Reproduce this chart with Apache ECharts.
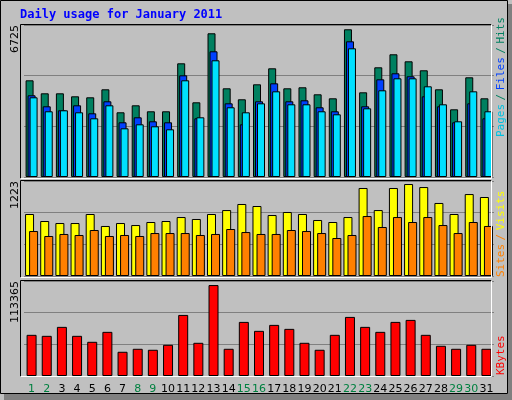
<!DOCTYPE html>
<html><head><meta charset="utf-8">
<script src="https://cdn.jsdelivr.net/npm/echarts@6/dist/echarts.min.js"></script>
<style>html,body{margin:0;padding:0;background:#c0c0c0}#c{width:512px;height:400px}</style>
</head><body><div id="c"></div>
<script>
const days = ['1','2','3','4','5','6','7','8','9','10','11','12','13','14','15','16','17','18','19','20','21','22','23','24','25','26','27','28','29','30','31'];
const weekend = ['1','2','8','9','15','16','22','23','29','30'];
const hits = [4278,3703,3703,3570,3526,3880,2863,3172,2907,2907,5030,3305,6358,3924,3438,4101,4809,3924,3969,3659,3482,6535,3747,4853,5429,5119,4721,3880,2995,4411,3482];
const files = [3615,3128,2951,3172,2818,3349,2420,2641,2464,2420,4499,2597,5561,3260,2331,3349,4145,3349,3393,3084,2907,6003,3128,4322,4588,4455,3570,3128,2420,3260,2597];
const pages = [3526,2907,2951,2862,2597,3172,2154,2331,2243,2110,4278,2641,5163,3084,2862,3260,3791,3216,3216,2907,2774,5694,3039,3836,4366,4366,4013,3216,2464,3791,2907];
const visits = [798,708,682,682,798,644,682,656,695,708,759,734,798,849,927,901,785,824,798,721,695,759,1133,849,1133,1184,1145,940,798,1055,1017];
const sites = [579,515,541,528,592,515,528,515,553,553,553,528,541,605,566,541,541,592,579,553,489,528,772,631,759,695,759,656,553,695,644];
const kbytes = [49116,47928,58623,47928,40798,52681,28915,32480,31292,37233,72882,39610,108531,32480,64564,53870,60999,56246,39610,31292,49116,70506,58623,52681,64564,66941,49116,36045,32480,37233,32480];
const axisMax = [6725, 1223, 113365];
const title = 'Daily usage for January 2011';

const chart = echarts.init(document.getElementById('c'));
const grids = [{top:25,height:152},{top:181,height:95},{top:281,height:95}].map(g=>({left:24,right:18,top:g.top,height:g.height,containLabel:false}));
const xAxes = [0,1,2].map(i=>({
  type:'category', gridIndex:i, data:days, axisLine:{show:false}, axisTick:{show:false},
  axisLabel: i<2 ? {show:false} : {
    show:true, margin:8, fontFamily:'DejaVu Sans', fontSize:11, interval:0,
    formatter:v=> weekend.includes(v) ? '{w|'+v+'}' : '{n|'+v+'}',
    rich:{w:{color:'#008040',fontFamily:'DejaVu Sans',fontSize:11},n:{color:'#000',fontFamily:'DejaVu Sans',fontSize:11}}
  }
}));
const yAxes = [0,1,2].map(i=>({
  type:'value', gridIndex:i, min:0, max:axisMax[i], interval:axisMax[i]/3,
  axisLabel:{show:false}, axisLine:{show:false}, axisTick:{show:false},
  splitLine:{show:true,lineStyle:{color:'#808080',width:1}}
}));
const bs = {borderColor:'#000',borderWidth:1};
const series = [
  {type:'bar',xAxisIndex:0,yAxisIndex:0,data:hits,barWidth:8,barGap:'-75%',itemStyle:{color:'#008060',...bs}},
  {type:'bar',xAxisIndex:0,yAxisIndex:0,data:files,barWidth:8,barGap:'-75%',itemStyle:{color:'#0040ff',...bs}},
  {type:'bar',xAxisIndex:0,yAxisIndex:0,data:pages,barWidth:8,barGap:'-75%',itemStyle:{color:'#00e0ff',...bs}},
  {type:'bar',xAxisIndex:1,yAxisIndex:1,data:visits,barWidth:9,barGap:'-55%',itemStyle:{color:'#ffff00',...bs}},
  {type:'bar',xAxisIndex:1,yAxisIndex:1,data:sites,barWidth:9,barGap:'-55%',itemStyle:{color:'#ff8000',...bs}},
  {type:'bar',xAxisIndex:2,yAxisIndex:2,data:kbytes,barWidth:10,itemStyle:{color:'#ff0000',...bs}}
];
const ln = (x1,y1,x2,y2,c)=>({type:'line',z:100,shape:{x1,y1,x2,y2},style:{stroke:c,lineWidth:1}});
const frames = [];
[[24,178],[180,277],[280,376]].forEach(([t,b])=>{
  frames.push(ln(20.5,t+0.5,491.5,t+0.5,'#000'), ln(20.5,t+0.5,20.5,b+0.5,'#000'),
              ln(491.5,t+0.5,491.5,b+0.5,'#fff'), ln(20.5,b+0.5,491.5,b+0.5,'#fff'));
});
const vt = (x,y,align,text,rich,color)=>({type:'text',z:100,x,y,rotation:Math.PI/2,
  style:{text,align,verticalAlign:'middle',fill:color||'#000',font:'11px "DejaVu Sans"',rich}});
const mono = c=>({fill:c,font:'11px "DejaVu Sans Mono"'});
chart.setOption({
  backgroundColor:'#c0c0c0', animation:false,
  grid:grids, xAxis:xAxes, yAxis:yAxes, series,
  graphic:[
    {type:'rect',z:-1,shape:{x:0.5,y:0.5,width:507,height:393},style:{fill:'none',stroke:'#000',lineWidth:1}},
    {type:'rect',z:-1,shape:{x:508,y:4,width:4,height:396},style:{fill:'#808080'}},
    {type:'rect',z:-1,shape:{x:4,y:394,width:508,height:6},style:{fill:'#808080'}},
    {type:'text',x:20,y:9,style:{text:title,fill:'#0000ff',font:'bold 12px "DejaVu Sans Mono"'}},
    vt(15,25,'right',String(axisMax[0])),
    vt(15,181,'right',String(axisMax[1])),
    vt(15,281,'right',String(axisMax[2])),
    vt(501,137,'left','{p|Pages} {s|/} {f|Files} {s|/} {h|Hits}',{p:mono('#00c0e0'),f:mono('#0040ff'),h:mono('#008060'),s:mono('#008060')}),
    vt(501,277,'left','{a|Sites} {s|/} {b|Visits}',{a:mono('#ff8000'),b:mono('#ffff00'),s:mono('#ff8000')}),
    vt(501,375,'left','{k|KBytes}',{k:mono('#ff0000')}),
    ...frames
  ]
});
</script></body></html>
